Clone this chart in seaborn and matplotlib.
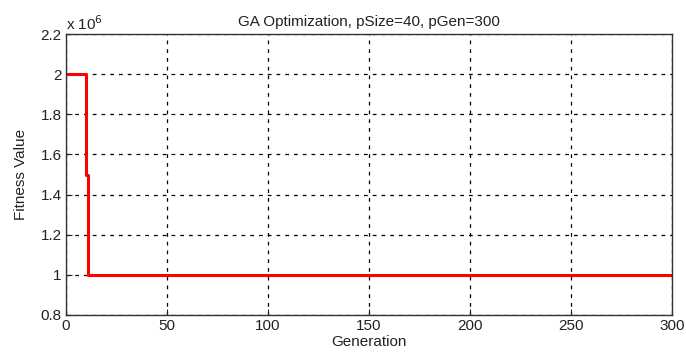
import matplotlib
matplotlib.use("Agg")
import matplotlib.pyplot as plt
import seaborn as sns
import pandas as pd

generation = [0, 10, 10, 11, 11, 300]
fitness = [2.0e6, 2.0e6, 1.5e6, 1.5e6, 1.0e6, 1.0e6]
x_ticks = [0, 50, 100, 150, 200, 250, 300]
y_ticks = [0.8, 1.0, 1.2, 1.4, 1.6, 1.8, 2.0, 2.2]
y_tick_labels = ["0.8", "1", "1.2", "1.4", "1.6", "1.8", "2", "2.2"]
title = "GA Optimization, pSize=40, pGen=300"

sns.set_theme(style="white")
plt.rcParams['font.family'] = ['Liberation Sans', 'DejaVu Sans']

df = pd.DataFrame({"Generation": generation, "Fitness": [v / 1e6 for v in fitness]})

fs = 11
fig = plt.figure(figsize=(6.86, 3.6), dpi=100)
ax = fig.add_axes([66/686, 1-315/360, (672-66)/686, (315-34)/360])
sns.lineplot(data=df, x="Generation", y="Fitness", ax=ax, color="#ff0000",
             linewidth=2.2, sort=False, estimator=None)
ax.set_xlim(0, 300)
ax.set_ylim(0.8, 2.2)
ax.set_xticks(x_ticks)
ax.set_yticks(y_ticks)
ax.set_yticklabels(y_tick_labels)
ax.grid(True, color="black", linestyle=(0, (3, 4)), linewidth=0.9)
for s in ax.spines.values():
    s.set_color("#333333")
    s.set_linewidth(1.0)
ax.tick_params(axis="both", labelsize=fs, colors="#222222", direction="in",
               length=4, width=0.8, bottom=True, left=True, pad=3)
ax.set_xlabel("Generation", fontsize=fs, color="#222222", labelpad=1)
ax.set_ylabel("Fitness Value", fontsize=fs, color="#222222", labelpad=9)
ax.set_title(title, fontsize=fs, color="#222222", pad=6)
ax.text(0.0, 1.005, r"x 10$^{6}$", transform=ax.transAxes, fontsize=fs,
        color="#222222", ha="left", va="bottom")
fig.savefig("out.png", dpi=100)
